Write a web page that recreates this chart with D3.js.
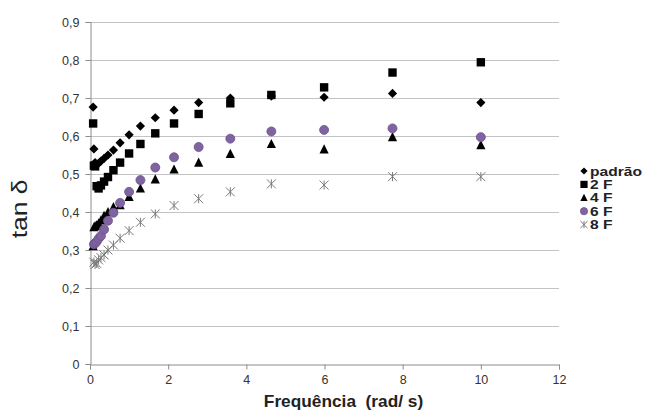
<!DOCTYPE html>
<html>
<head>
<meta charset="utf-8">
<script src="https://cdn.jsdelivr.net/npm/d3@7"></script>
<style>
  body { margin: 0; background: #fff; }
  svg { font-family: "Liberation Sans", Arial, sans-serif; }
</style>
</head>
<body>
<div id="chart"></div>
<script>
// dados
var xTicks = [0, 2, 4, 6, 8, 10, 12];
var yTicks = [0, 0.1, 0.2, 0.3, 0.4, 0.5, 0.6, 0.7, 0.8, 0.9];
var seriesNames = ["padrão", "2 F", "4 F", "6 F", "8 F"];

var freqA = [0.08, 0.1, 0.13, 0.17, 0.22, 0.28, 0.36, 0.46, 0.6, 0.77, 1, 1.29, 1.67, 2.15, 2.78, 3.59, 4.64, 5.99, 7.74, 10];
var freqB = [0.1, 0.13, 0.17, 0.22, 0.28, 0.36, 0.46, 0.6, 0.77, 1, 1.29, 1.67, 2.15, 2.78, 3.59, 4.64, 5.99, 7.74, 10];

var padrao = [0.676, 0.566, 0.53, 0.525, 0.528, 0.534, 0.541, 0.55, 0.563, 0.582, 0.603, 0.626, 0.648, 0.668, 0.688, 0.70, 0.705, 0.702, 0.712, 0.688];
var f2 = [0.633, 0.522, 0.52, 0.468, 0.462, 0.47, 0.48, 0.492, 0.51, 0.53, 0.554, 0.579, 0.607, 0.633, 0.658, 0.686, 0.708, 0.728, 0.767, 0.794];
var f4 = [0.31, 0.36, 0.363, 0.365, 0.37, 0.378, 0.39, 0.40, 0.413, 0.418, 0.44, 0.462, 0.486, 0.512, 0.53, 0.553, 0.579, 0.565, 0.597, 0.576];
var f6 = [0.315, 0.318, 0.322, 0.33, 0.337, 0.354, 0.377, 0.398, 0.424, 0.453, 0.484, 0.517, 0.544, 0.571, 0.593, 0.612, 0.616, 0.620, 0.597];
var f8 = [0.268, 0.262, 0.265, 0.274, 0.28, 0.287, 0.30, 0.313, 0.331, 0.351, 0.373, 0.395, 0.417, 0.435, 0.453, 0.474, 0.471, 0.493, 0.493];

var W = 648, H = 412;
var margin = { left: 90, right: 89, top: 22, bottom: 48 };

var svg = d3.select("#chart").append("svg")
    .attr("width", W)
    .attr("height", H);

var x = d3.scaleLinear().domain([0, 12]).range([margin.left, W - margin.right]);
var y = d3.scaleLinear().domain([0, 0.9]).range([H - margin.bottom, margin.top]);

// linhas de grade
svg.append("g").selectAll("line")
    .data(yTicks.slice(1))
    .enter().append("line")
    .attr("x1", x(0)).attr("x2", x(12))
    .attr("y1", function (d) { return Math.round(y(d)) + 0.5; })
    .attr("y2", function (d) { return Math.round(y(d)) + 0.5; })
    .attr("stroke", "#c3c3c3")
    .attr("stroke-width", 1);

// eixos
var xAxis = d3.axisBottom(x).tickValues(xTicks).tickSize(5).tickPadding(6)
    .tickFormat(d3.format("d"));
var yAxis = d3.axisLeft(y).tickValues(yTicks).tickSize(5).tickPadding(6)
    .tickFormat(function (d) { return d === 0 ? "0" : d3.format(".1f")(d).replace(".", ","); });

var gx = svg.append("g")
    .attr("transform", "translate(0," + (Math.round(y(0)) + 0.5) + ")")
    .call(xAxis);
var gy = svg.append("g")
    .attr("transform", "translate(" + (Math.round(x(0)) + 0.5) + ",0)")
    .call(yAxis);
[gx, gy].forEach(function (g) {
    g.select(".domain").attr("stroke", "#8c8c8c");
    g.selectAll(".tick line").attr("stroke", "#8c8c8c");
    g.selectAll(".tick text")
        .attr("font-size", "12.5px")
        .attr("font-family", "Liberation Sans, Arial, sans-serif")
        .attr("fill", "#333");
});

// títulos
svg.append("text")
    .attr("transform", "translate(27,209) rotate(-90) scale(1.2,1)")
    .attr("text-anchor", "middle")
    .attr("font-size", "22px")
    .attr("fill", "#222")
    .text("tan δ");

svg.append("text")
    .attr("transform", "translate(" + ((x(0) + x(12)) / 2 + 19) + ",407) scale(1.08,1)")
    .attr("text-anchor", "middle")
    .attr("font-size", "16px")
    .attr("font-weight", "bold")
    .attr("fill", "#222")
    .attr("xml:space", "preserve")
    .text("Frequência  (rad/ s)");

// marcadores
function marker(g, type, s) {
    if (type === "diamond") {
        g.append("path").attr("d", "M0," + (-s) + "L" + s + ",0L0," + s + "L" + (-s) + ",0Z")
            .attr("fill", "#000");
    } else if (type === "square") {
        g.append("rect").attr("x", -s).attr("y", -s).attr("width", 2 * s).attr("height", 2 * s)
            .attr("fill", "#000");
    } else if (type === "triangle") {
        g.append("path").attr("d", "M0," + (-s * 1.1) + "L" + s + "," + (s * 0.9) + "L" + (-s) + "," + (s * 0.9) + "Z")
            .attr("fill", "#000");
    } else if (type === "circle") {
        g.append("circle").attr("r", s)
            .attr("fill", "#8064a2")
            .attr("stroke", "#6b528c")
            .attr("stroke-width", 0.8);
    } else if (type === "star") {
        g.append("path")
            .attr("d", "M" + (-s) + "," + (-s) + "L" + s + "," + s + "M" + s + "," + (-s) + "L" + (-s) + "," + s +
                "M0," + (-s) + "L0," + s)
            .attr("stroke", "#7a7a7a")
            .attr("stroke-width", 1)
            .attr("fill", "none");
    }
}

var series = [
    { name: seriesNames[0], xs: freqA, ys: padrao, type: "diamond", size: 4.6 },
    { name: seriesNames[1], xs: freqA, ys: f2, type: "square", size: 4.2 },
    { name: seriesNames[2], xs: freqA, ys: f4, type: "triangle", size: 4.6 },
    { name: seriesNames[3], xs: freqB, ys: f6, type: "circle", size: 4.5 },
    { name: seriesNames[4], xs: freqB, ys: f8, type: "star", size: 4.5 }
];

series.forEach(function (s) {
    var pts = s.xs.map(function (v, i) { return [v, s.ys[i]]; });
    svg.append("g").selectAll("g")
        .data(pts)
        .enter().append("g")
        .attr("transform", function (d) { return "translate(" + x(d[0]) + "," + y(d[1]) + ")"; })
        .each(function () { marker(d3.select(this), s.type, s.size); });
});

// legenda
var legend = svg.append("g").attr("transform", "translate(584,171)");
series.forEach(function (s, i) {
    var row = legend.append("g").attr("transform", "translate(0," + (i * 13.4) + ")");
    marker(row, s.type, 3.6);
    row.append("text")
        .attr("transform", "translate(6,4.5) scale(1.25,1)")
        .attr("font-size", "12.5px")
        .attr("font-weight", "bold")
        .attr("fill", "#222")
        .text(s.name);
});
</script>
</body>
</html>
